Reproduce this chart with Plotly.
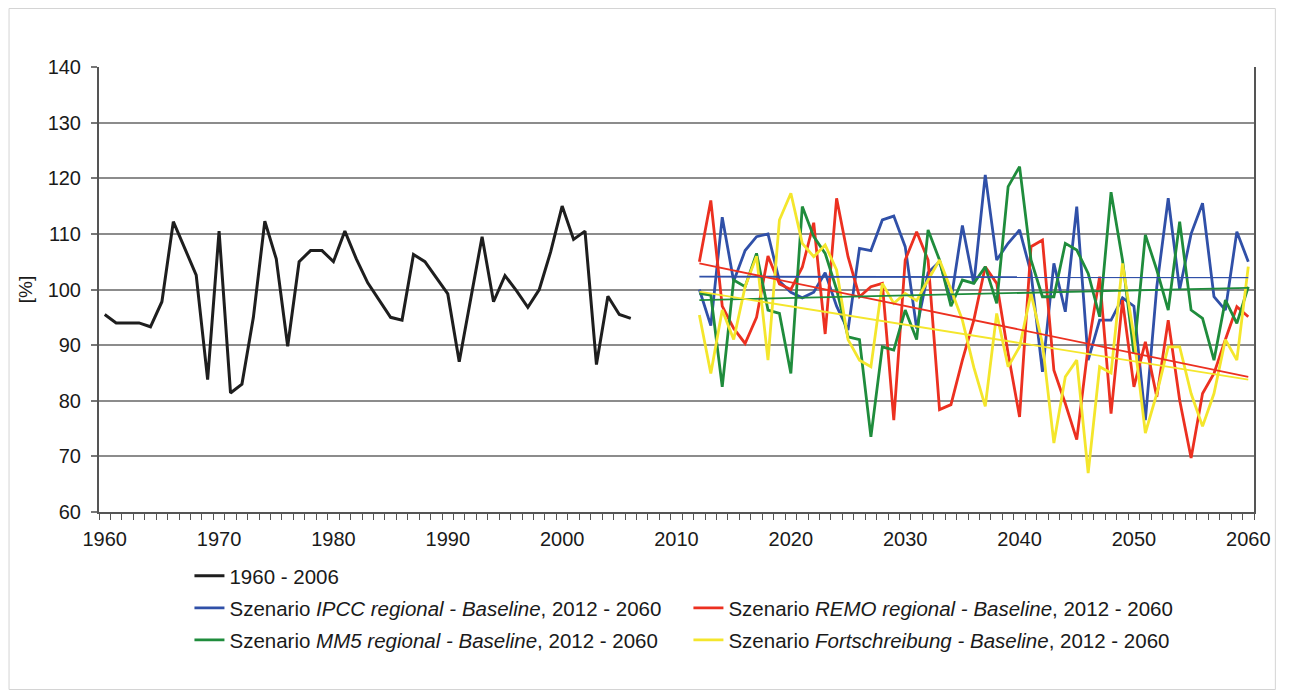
import plotly.graph_objects as go

# ---------------- data ----------------
hist_years = list(range(1960, 2007))
hist_vals = [95.5, 94, 94, 94, 93.3, 97.8, 112.2, 107.5, 102.6, 83.8,
             110.5, 81.4, 83, 95, 112.3, 105.5, 89.8, 105, 107, 107,
             105, 110.5, 105.5, 101.2, 98, 95, 94.5, 106.3, 105, 102.2,
             99.2, 87, 98.5, 109.5, 97.8, 102.5, 99.8, 96.8, 100, 106.8,
             115, 109, 110.5, 86.5, 98.8, 95.5, 94.8]

scen_years = list(range(2012, 2061))
ipcc = [100, 93.5, 113, 101.5, 107, 109.5, 110, 101.5, 99.5, 98.5, 99.5, 103, 97,
        92.7, 107.4, 107, 112.5, 113.2, 107.7, 93, 103, 105, 98, 111.5, 101,
        120.6, 105.3, 108.3, 110.7, 103, 85.2, 104.7, 96, 114.9, 87.3, 94.5, 94.5,
        98.5, 97, 76.5, 100.5, 116.4, 100, 110, 115.5, 98.7, 96.3, 110.4, 105]
remo = [105, 116, 97, 93, 90.3, 95, 106, 101, 100, 104, 112, 92, 116.4,
        105.9, 98.7, 100.5, 101.1, 76.5, 105.3, 110.4, 105.3, 78.4, 79.3, 87.3, 94.5,
        104.1, 101.1, 88.5, 77.1, 107.7, 108.9, 85.5, 79.5, 73, 89.7, 102.3, 77.7,
        98.1, 82.5, 90.6, 80.7, 94.5, 80.1, 69.7, 81.3, 84.9, 91, 96.9, 95.1]
mm5 = [99.3, 99, 82.5, 101.7, 100.5, 106.5, 96.3, 95.7, 84.9, 114.9, 109.5, 106.5, 100,
       91.5, 91, 73.5, 89.7, 89.1, 96.3, 91, 110.7, 105.3, 97, 101.7, 101.1,
       104.1, 97.5, 118.5, 122.1, 105.3, 98.7, 98.7, 108.3, 107.1, 102.9, 95.1, 117.5,
       105.3, 88.5, 109.8, 103.5, 96.3, 112.2, 96.3, 94.8, 87.3, 98.1, 93.9, 100.5]
fort = [95.4, 84.9, 96.3, 91, 100.5, 106, 87.3, 112.5, 117.3, 108.3, 105.9, 108, 103.5,
        91, 87.3, 86.1, 101.1, 97.5, 99.3, 98, 101.7, 105.3, 100, 94.5, 86,
        79, 95.7, 86.1, 89.7, 99.3, 90.3, 72.4, 84.3, 87.3, 67, 86.1, 85,
        104.7, 91.5, 74.2, 81.3, 89.7, 89.7, 81.3, 75.4, 81.3, 91, 87.3, 104.1]

# linear trend lines (start 2012, end 2060)
trend_years = [2012, 2060]
trend_ipcc = [102.3, 102.2]
trend_remo = [104.7, 84.3]
trend_mm5 = [98.1, 100.3]
trend_fort = [99.6, 83.8]

names = ["1960 - 2006",
         "Szenario <i>IPCC regional - Baseline</i>, 2012 - 2060",
         "Szenario <i>REMO regional - Baseline</i>, 2012 - 2060",
         "Szenario <i>MM5 regional - Baseline</i>, 2012 - 2060",
         "Szenario <i>Fortschreibung - Baseline</i>, 2012 - 2060"]

x_ticks = list(range(1960, 2061, 10))
y_ticks = list(range(60, 141, 10))

# ---------------- layout geometry ----------------
# the page body has an 8px margin, so the figure is drawn at page offset (8, 8)
OFF = 8
W, H = 1291 - 2 * OFF, 698 - 2 * OFF
# plot area in page pixels: x 99..1261, y 67..512
L = 99 - OFF
T = 67 - OFF
R = W - (1261 - OFF)
B = H - (512 - OFF)
pw, ph = W - L - R, H - T - B


def px_x(px):  # page pixel -> paper x
    return (px - OFF - L) / pw


def px_y(py):  # page pixel -> paper y
    return 1 - (py - OFF - T) / ph


C_BLACK = "#1e1e1e"
C_BLUE = "#3050a8"
C_RED = "#ec3020"
C_GREEN = "#1f8c3c"
C_YELLOW = "#f4e62c"
FONT = "Arial, Liberation Sans, sans-serif"

fig = go.Figure()

series = [
    (scen_years, ipcc, C_BLUE, names[1], "legend2"),
    (scen_years, remo, C_RED, names[2], "legend4"),
    (scen_years, mm5, C_GREEN, names[3], "legend3"),
    (scen_years, fort, C_YELLOW, names[4], "legend5"),
]

fig.add_trace(go.Scatter(x=hist_years, y=hist_vals, mode="lines", name=names[0],
                         line=dict(color=C_BLACK, width=3), legend="legend"))
for xs, ys, col, nm, lg in series:
    fig.add_trace(go.Scatter(x=xs, y=ys, mode="lines", name=nm,
                             line=dict(color=col, width=2.8), legend=lg))

for ys, col in [(trend_ipcc, C_BLUE), (trend_remo, C_RED),
                (trend_mm5, C_GREEN), (trend_fort, C_YELLOW)]:
    fig.add_trace(go.Scatter(x=trend_years, y=ys, mode="lines", showlegend=False,
                             line=dict(color=col, width=1.8), hoverinfo="skip"))

legend_common = dict(xanchor="left", yanchor="middle", bgcolor="rgba(0,0,0,0)",
                     font=dict(family=FONT, size=20.5, color="#1a1a1a"),
                     itemwidth=30, tracegroupgap=0)
leg_pos = {
    "legend": (190, 576),
    "legend2": (190, 608),
    "legend3": (190, 640),
    "legend4": (692, 608),
    "legend5": (692, 640),
}
legends = {k: dict(legend_common, x=px_x(v[0]), y=px_y(v[1])) for k, v in leg_pos.items()}

fig.update_layout(
    width=W, height=H,
    margin=dict(l=L, r=R, t=T, b=B),
    paper_bgcolor="white", plot_bgcolor="white",
    font=dict(family=FONT, size=20, color="#1a1a1a"),
    showlegend=True,
    **legends,
    xaxis=dict(range=[1959.5, 2060.5], tickmode="array", tickvals=x_ticks,
               ticktext=[str(v) for v in x_ticks], ticks="", showgrid=False,
               zeroline=False, showline=True, linecolor="#555555", linewidth=2,
               ticklabelstandoff=8,
               minor=dict(tickmode="linear", tick0=0.5, dtick=1, ticks="outside",
                          ticklen=6, tickwidth=1, tickcolor="#555555", showgrid=False),
               tickfont=dict(family=FONT, size=20, color="#1a1a1a")),
    yaxis=dict(range=[60, 140], tickmode="array", tickvals=y_ticks, ticks="outside",
               ticklen=6, tickwidth=2, tickcolor="#777777",
               showgrid=True, gridcolor="#8c8c8c", gridwidth=2,
               zeroline=False, showline=True, linecolor="#555555", linewidth=2,
               mirror=True, ticklabelstandoff=6,
               title=dict(text="[%]", standoff=10,
                          font=dict(family=FONT, size=19, color="#1a1a1a")),
               tickfont=dict(family=FONT, size=20, color="#1a1a1a")),
    shapes=[dict(type="rect", xref="paper", yref="paper",
                 x0=px_x(8.5), x1=px_x(1282.5), y0=px_y(689.5), y1=px_y(8.5),
                 line=dict(color="#d4d4d4", width=1), fillcolor="rgba(0,0,0,0)",
                 layer="below")],
)

fig.write_html("out.html")
